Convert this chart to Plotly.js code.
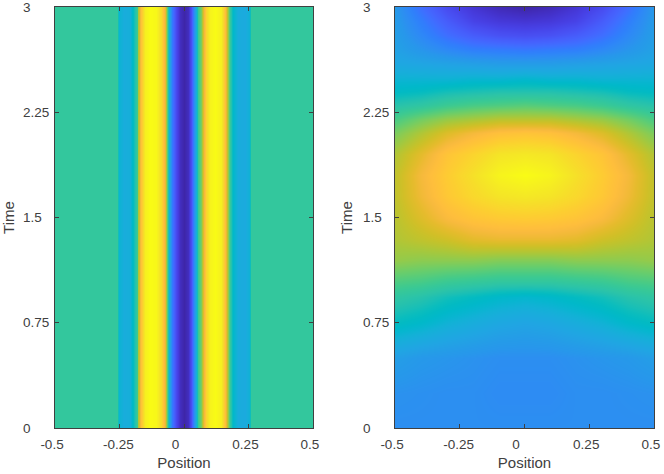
<!DOCTYPE html>
<html><head><meta charset="utf-8">
<script src="https://cdn.plot.ly/plotly-3.0.1.min.js"></script>
<style>html,body{margin:0;padding:0;background:#fff}</style></head>
<body><div id="chart" style="width:664px;height:474px"></div>
<script>
const parula = [[.2422,.1504,.6603],[.2504,.1650,.7076],[.2578,.1818,.7511],[.2647,.1978,.7952],[.2706,.2147,.8364],[.2751,.2342,.8710],[.2783,.2559,.8991],[.2803,.2782,.9221],[.2813,.3006,.9414],[.2810,.3228,.9579],[.2795,.3447,.9717],[.2760,.3667,.9829],[.2699,.3892,.9906],[.2602,.4123,.9952],[.2440,.4358,.9988],[.2206,.4603,.9973],[.1963,.4847,.9892],[.1834,.5074,.9798],[.1786,.5289,.9682],[.1764,.5499,.9520],[.1687,.5703,.9359],[.1540,.5902,.9218],[.1460,.6091,.9079],[.1380,.6276,.8973],[.1248,.6459,.8883],[.1113,.6635,.8763],[.0952,.6798,.8598],[.0689,.6948,.8394],[.0297,.7082,.8163],[.0036,.7203,.7917],[.0067,.7312,.7660],[.0433,.7411,.7394],[.0964,.7500,.7120],[.1408,.7584,.6842],[.1717,.7670,.6554],[.1938,.7758,.6251],[.2161,.7843,.5923],[.2470,.7918,.5567],[.2906,.7973,.5188],[.3406,.8008,.4789],[.3909,.8029,.4354],[.4456,.8024,.3909],[.5044,.7993,.3480],[.5616,.7942,.3045],[.6174,.7876,.2612],[.6720,.7793,.2227],[.7242,.7698,.1910],[.7738,.7598,.1646],[.8203,.7498,.1535],[.8634,.7406,.1596],[.9035,.7330,.1774],[.9393,.7288,.2100],[.9728,.7298,.2394],[.9956,.7434,.2371],[.9970,.7659,.2199],[.9952,.7893,.2028],[.9892,.8136,.1885],[.9786,.8386,.1766],[.9676,.8639,.1643],[.9610,.8890,.1537],[.9597,.9135,.1423],[.9628,.9373,.1265],[.9691,.9606,.1064],[.9769,.9839,.0805]];
const colorscale = parula.map((c,i)=>[i/(parula.length-1),`rgb(${c.map(v=>Math.round(v*255)).join(',')})`]);

const times = [0,3];
const leftPositions = [-0.5,-0.258,-0.253,-0.231,-0.208,-0.196,-0.184,-0.177,-0.165,-0.15,-0.13,-0.107,-0.088,-0.072,-0.064,-0.057,-0.045,-0.03,-0.014,0,0.017,0.029,0.036,0.048,0.056,0.064,0.075,0.087,0.102,0.122,0.145,0.156,0.164,0.172,0.18,0.191,0.211,0.238,0.253,0.261,0.5];
const leftProfile = [.56,.56,.44,.41,.42,.48,.58,.72,.86,.97,1,.99,.92,.80,.62,.42,.25,.12,.03,0,.03,.13,.25,.42,.58,.66,.78,.90,.98,1,.97,.88,.80,.68,.56,.46,.41,.40,.43,.56,.56];

const rightPositions = [-0.5,-0.4,-0.3,-0.2,-0.1,0,0.1,0.2,0.3,0.4,0.5];
const rightTimes = [0,0.25,0.5,0.75,0.93,1.05,1.2,1.35,1.5,1.65,1.8,1.95,2.1,2.2,2.3,2.4,2.48,2.6,2.7,2.8,2.9,3];
const rightValues = [
 [.31,.31,.31,.31,.31,.31,.31,.31,.31,.31,.31],
 [.32,.315,.31,.31,.30,.30,.30,.31,.31,.315,.32],
 [.36,.34,.33,.32,.31,.31,.31,.32,.33,.34,.36],
 [.48,.46,.43,.41,.39,.38,.39,.41,.43,.46,.48],
 [.55,.53,.50,.48,.46,.45,.46,.48,.50,.53,.55],
 [.61,.60,.58,.57,.56,.56,.56,.57,.58,.60,.61],
 [.69,.68,.68,.68,.67,.67,.67,.68,.68,.68,.69],
 [.72,.74,.76,.79,.80,.80,.80,.79,.76,.74,.72],
 [.73,.78,.83,.86,.875,.88,.875,.86,.83,.78,.73],
 [.74,.81,.87,.91,.94,.95,.94,.91,.87,.81,.74],
 [.74,.82,.88,.93,.98,1,.98,.93,.88,.82,.74],
 [.72,.79,.86,.90,.94,.95,.94,.90,.86,.79,.72],
 [.66,.72,.78,.82,.85,.86,.85,.82,.78,.72,.66],
 [.60,.65,.69,.71,.73,.73,.73,.71,.69,.65,.60],
 [.53,.55,.58,.60,.61,.62,.61,.60,.58,.55,.53],
 [.47,.48,.50,.51,.52,.52,.52,.51,.50,.48,.47],
 [.44,.44,.44,.45,.45,.46,.45,.45,.44,.44,.44],
 [.39,.38,.37,.36,.35,.35,.35,.36,.37,.38,.39],
 [.37,.33,.29,.26,.25,.24,.25,.26,.29,.33,.37],
 [.36,.29,.22,.17,.14,.13,.14,.17,.22,.29,.36],
 [.35,.26,.17,.10,.07,.06,.07,.10,.17,.26,.35],
 [.34,.22,.12,.06,.02,0,.02,.06,.12,.22,.34]
];

const xTickVals = [-0.5,-0.25,0,0.25,0.5];
const xTickLabels = ['-0.5','-0.25','0','0.25','0.5'];
const yTickVals = [0,0.75,1.5,2.25,3];
const yTickLabels = ['0','0.75','1.5','2.25','3'];
const xLead = [0,1,0,0,0];
const xTrail = [0,0,3,0,0];
const yLead = [0,0,0,0,0];
const yTrail = [5,0,2,0,5];
const pad = (labels,a,b)=>labels.map((t,i)=>'\u00a0'.repeat(a[i])+t+'\u00a0'.repeat(b[i]));

const W=664,H=474;
const ink='#404040';
const font={family:'"Liberation Sans",Arial,sans-serif',size:13.5,color:ink};
const titleFont={family:'"Liberation Sans",Arial,sans-serif',size:15,color:ink};
function xa(a,b){return {domain:[a/W,b/W],range:[-0.5,0.5],tickmode:'array',tickvals:xTickVals,ticktext:pad(xTickLabels,xLead,xTrail),
  ticks:'inside',ticklen:4,tickwidth:1,tickcolor:ink,showline:true,linecolor:ink,linewidth:1,mirror:'ticks',showgrid:false,zeroline:false,
  tickangle:0,tickfont:font,ticklabeloverflow:'allow',ticklabelstandoff:4,ticklabelshift:-3,title:{text:'Position',font:titleFont,standoff:6}};}
function ya(){return {domain:[(H-428)/H,(H-7)/H],range:[0,3],tickmode:'array',tickvals:yTickVals,ticktext:pad(yTickLabels,yLead,yTrail),
  ticks:'inside',ticklen:4,tickwidth:1,tickcolor:ink,showline:true,linecolor:ink,linewidth:1,mirror:'ticks',showgrid:false,zeroline:false,
  tickfont:font,ticklabeloverflow:'allow',ticklabelstandoff:2,title:{text:'Time',font:titleFont,standoff:6}};}

const data=[
 {type:'heatmap',x:leftPositions,y:times,z:times.map(()=>leftProfile),zmin:0,zmax:1,zsmooth:'best',colorscale,showscale:false,xaxis:'x',yaxis:'y'},
 {type:'heatmap',x:rightPositions,y:rightTimes,z:rightValues,zmin:0,zmax:1,zsmooth:'best',colorscale,showscale:false,xaxis:'x2',yaxis:'y2'}
];
const y2=ya(); y2.anchor='x2';
const layout={width:W,height:H,margin:{l:0,r:0,t:0,b:0},paper_bgcolor:'#fff',plot_bgcolor:'#fff',showlegend:false,
 xaxis:Object.assign(xa(55,313),{anchor:'y'}),yaxis:Object.assign(ya(),{anchor:'x'}),
 xaxis2:Object.assign(xa(395,654),{anchor:'y2'}),yaxis2:y2};
Plotly.newPlot('chart',data,layout,{displayModeBar:false,staticPlot:true});
</script></body></html>
